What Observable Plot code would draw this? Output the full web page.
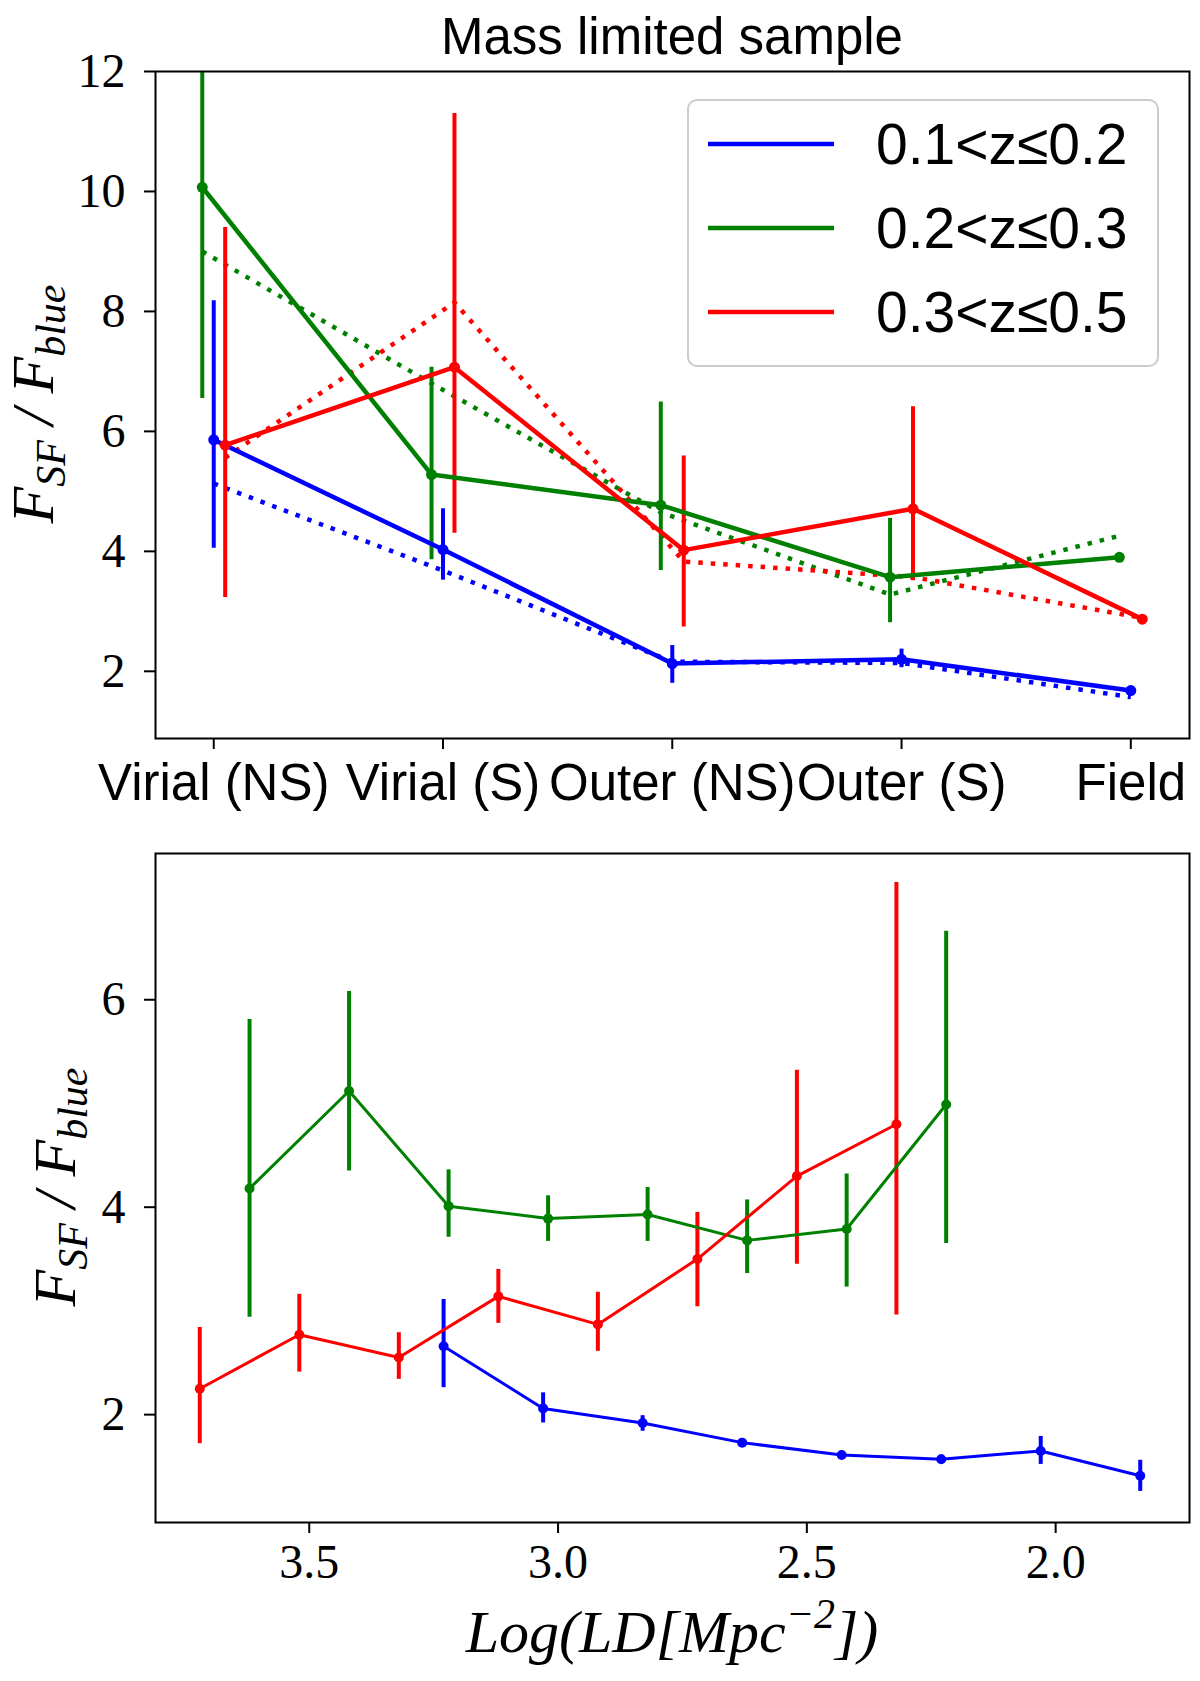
<!DOCTYPE html>
<html>
<head>
<meta charset="utf-8">
<script src="https://cdn.jsdelivr.net/npm/d3@7"></script>
<script src="https://cdn.jsdelivr.net/npm/@observablehq/plot@0.6"></script>
<style>
  body { margin: 0; background: #fff; }
  #chart_top, #chart_bottom { width: 1200px; }
  svg { display: block; }
</style>
</head>
<body>
<div id="chart_top"></div>
<div id="chart_bottom"></div>
<script>
// categories and redshift bins
const categories = ["Virial (NS)", "Virial (S)", "Outer (NS)", "Outer (S)", "Field"];
const zBins = ["0.1<z≤0.2", "0.2<z≤0.3", "0.3<z≤0.5"];
const zColors = ["#0000ff", "#008000", "#ff0000"];
const zOffsets = [0, -0.05, 0.05];

// top panel: environment, solid lines with error bars
const envBlue = [5.86, 4.03, 2.13, 2.20, 1.68];
const envBlueLo = [4.05, 3.52, 1.80, 2.06, 1.61];
const envBlueHi = [8.18, 4.71, 2.43, 2.37, 1.75];
const envGreen = [10.07, 5.28, 4.77, 3.57, 3.90];
const envGreenLo = [6.55, 3.86, 3.68, 2.81, 3.84];
const envGreenHi = [13.6, 7.07, 6.49, 4.55, 3.96];
const envRed = [5.77, 7.07, 4.02, 4.71, 2.87];
const envRedLo = [3.23, 4.30, 2.74, 3.51, 2.82];
const envRedHi = [9.40, 11.30, 5.59, 6.41, 2.93];

// top panel: dotted lines
const dotBlue = [5.13, 3.68, 2.16, 2.14, 1.57];
const dotGreen = [9.0, 6.8, 4.65, 3.28, 4.26];
const dotRed = [5.56, 8.15, 3.83, 3.57, 2.89];

// bottom panel: local density
const ldBlueX = [3.23, 3.03, 2.83, 2.63, 2.43, 2.23, 2.03, 1.83];
const ldBlue = [2.66, 2.06, 1.92, 1.73, 1.61, 1.57, 1.65, 1.41];
const ldBlueLo = [2.26, 1.92, 1.84, 1.70, 1.58, 1.53, 1.52, 1.26];
const ldBlueHi = [3.11, 2.21, 1.99, 1.76, 1.64, 1.61, 1.79, 1.56];
const ldGreenX = [3.62, 3.42, 3.22, 3.02, 2.82, 2.62, 2.42, 2.22];
const ldGreen = [4.18, 5.12, 4.01, 3.89, 3.93, 3.68, 3.79, 4.99];
const ldGreenLo = [2.94, 4.35, 3.71, 3.67, 3.67, 3.36, 3.23, 3.65];
const ldGreenHi = [5.81, 6.08, 4.36, 4.11, 4.19, 4.07, 4.32, 6.66];
const ldRedX = [3.72, 3.52, 3.32, 3.12, 2.92, 2.72, 2.52, 2.32];
const ldRed = [2.25, 2.77, 2.55, 3.14, 2.87, 3.50, 4.30, 4.80];
const ldRedLo = [1.72, 2.41, 2.34, 2.88, 2.61, 3.04, 3.45, 2.96];
const ldRedHi = [2.84, 3.16, 2.79, 3.40, 3.18, 3.95, 5.32, 7.13];

const envTicks = [0, 1, 2, 3, 4];
const envYTicks = [2, 4, 6, 8, 10, 12];
const ldXTicks = [3.5, 3.0, 2.5, 2.0];
const ldYTicks = [2, 4, 6];

// build tables
const envSolid = [[envBlue, envBlueLo, envBlueHi], [envGreen, envGreenLo, envGreenHi], [envRed, envRedLo, envRedHi]]
  .flatMap(([v, lo, hi], s) => v.map((y, i) => ({series: zBins[s], x: i + zOffsets[s], y, lo: lo[i], hi: hi[i]})));
const envDotted = [dotBlue, dotGreen, dotRed]
  .flatMap((v, s) => v.map((y, i) => ({series: zBins[s], x: i + zOffsets[s], y})));
const ldRows = [[ldBlueX, ldBlue, ldBlueLo, ldBlueHi], [ldGreenX, ldGreen, ldGreenLo, ldGreenHi], [ldRedX, ldRed, ldRedLo, ldRedHi]]
  .flatMap(([xs, v, lo, hi], s) => v.map((y, i) => ({series: zBins[s], x: xs[i], y, lo: lo[i], hi: hi[i]})));

const serif = "'Liberation Serif', 'DejaVu Serif', serif";
const sans = "'Liberation Sans', 'DejaVu Sans', sans-serif";
const color = {domain: zBins, range: zColors};

let chart_top = Plot.plot({
  width: 1200,
  height: 800,
  marginTop: 71,
  marginBottom: 62,
  marginLeft: 155,
  marginRight: 11,
  style: {background: "white", color: "black", overflow: "visible"},
  x: {domain: [-0.254, 4.256]},
  y: {domain: [0.88, 12]},
  color,
  marks: [
    Plot.axisY({ticks: envYTicks, tickFormat: d3.format("d"), tickSize: 11, tickPadding: 19, fontSize: 48, fontFamily: serif, strokeWidth: 2, label: null}),
    Plot.axisX({ticks: envTicks, tickFormat: i => categories[i], tickSize: 11, tickPadding: 14, fontSize: 51, fontFamily: sans, strokeWidth: 2, label: null}),
    Plot.line(envDotted, {x: "x", y: "y", z: "series", stroke: "series", strokeWidth: 4.5, strokeDasharray: "4.5,8", strokeLinecap: "butt", clip: true}),
    Plot.ruleX(envSolid, {x: "x", y1: "lo", y2: "hi", stroke: "series", strokeWidth: 4, clip: true}),
    Plot.line(envSolid, {x: "x", y: "y", z: "series", stroke: "series", strokeWidth: 4.5}),
    Plot.dot(envSolid, {x: "x", y: "y", fill: "series", r: 5.5}),
    Plot.frame({stroke: "black", strokeWidth: 2})
  ]
});

let chart_bottom = Plot.plot({
  width: 1200,
  height: 881,
  marginTop: 53,
  marginBottom: 159,
  marginLeft: 155,
  marginRight: 11,
  style: {background: "white", color: "black", overflow: "visible"},
  x: {domain: [3.809, 1.731]},
  y: {domain: [0.96, 7.41]},
  color,
  marks: [
    Plot.axisY({ticks: ldYTicks, tickFormat: d3.format("d"), tickSize: 11, tickPadding: 19, fontSize: 48, fontFamily: serif, strokeWidth: 2, label: null}),
    Plot.axisX({ticks: ldXTicks, tickFormat: d3.format(".1f"), tickSize: 11, tickPadding: 10, fontSize: 48, fontFamily: serif, strokeWidth: 2, label: null}),
    Plot.ruleX(ldRows, {x: "x", y1: "lo", y2: "hi", stroke: "series", strokeWidth: 4}),
    Plot.line(ldRows, {x: "x", y: "y", z: "series", stroke: "series", strokeWidth: 3}),
    Plot.dot(ldRows, {x: "x", y: "y", fill: "series", r: 5}),
    Plot.frame({stroke: "black", strokeWidth: 2})
  ]
});

// F_SF / F_blue label with subscripts
function yLabel(svg, x, y) {
  const t = d3.select(svg).append("text")
    .attr("transform", `translate(${x},${y}) rotate(-90)`)
    .attr("text-anchor", "middle")
    .attr("font-family", serif)
    .attr("font-style", "italic")
    .attr("font-size", 60)
    .attr("fill", "black");
  t.append("tspan").text("F");
  t.append("tspan").attr("font-size", 42).attr("dy", 12).text("SF");
  t.append("tspan").attr("dy", -12).text(" / F");
  t.append("tspan").attr("font-size", 42).attr("dy", 12).text("blue");
}

const topSel = d3.select(chart_top);
topSel.append("text")
  .attr("x", 672).attr("y", 54)
  .attr("text-anchor", "middle")
  .attr("font-family", sans).attr("font-size", 51).attr("fill", "black")
  .text("Mass limited sample");
yLabel(chart_top, 53, 404);

// legend
const leg = topSel.append("g").attr("text-anchor", "start");
leg.append("rect")
  .attr("x", 688).attr("y", 100).attr("width", 470).attr("height", 266).attr("rx", 9)
  .attr("fill", "white").attr("fill-opacity", 0.8)
  .attr("stroke", "#cccccc").attr("stroke-width", 2);
zBins.forEach((label, i) => {
  const ly = 144 + i * 84;
  leg.append("line")
    .attr("x1", 708).attr("x2", 834).attr("y1", ly).attr("y2", ly)
    .attr("stroke", zColors[i]).attr("stroke-width", 4.5);
  leg.append("text")
    .attr("x", 876).attr("y", ly + 20)
    .attr("text-anchor", "start")
    .attr("font-family", sans).attr("font-size", 57).attr("fill", "black")
    .text(label);
});

yLabel(chart_bottom, 75, 387);
const xl = d3.select(chart_bottom).append("text")
  .attr("x", 672).attr("y", 852)
  .attr("text-anchor", "middle")
  .attr("font-family", serif).attr("font-style", "italic")
  .attr("font-size", 60).attr("fill", "black");
xl.append("tspan").text("Log(LD[Mpc");
xl.append("tspan").attr("font-size", 42).attr("dy", -24).text("−2");
xl.append("tspan").attr("dy", 24).text("])");

d3.select('#chart_top').append(() => chart_top);
d3.select('#chart_bottom').append(() => chart_bottom);
</script>
</body>
</html>
